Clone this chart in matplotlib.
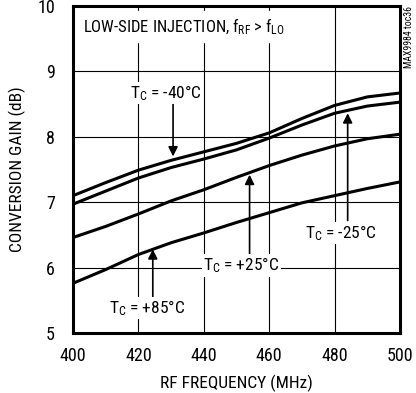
import matplotlib
matplotlib.use("Agg")
import matplotlib.pyplot as plt

plt.rcParams['font.family'] = ['Roboto Condensed', 'Archivo Narrow', 'DejaVu Sans']
plt.rcParams['mathtext.fontset'] = 'custom'
plt.rcParams['mathtext.rm'] = 'Roboto Condensed'
plt.rcParams['mathtext.it'] = 'Roboto Condensed'

# data
freq = [400, 410, 420, 430, 440, 450, 460, 470, 480, 490, 500]
gain_m40 = [7.10, 7.30, 7.49, 7.64, 7.77, 7.90, 8.06, 8.28, 8.48, 8.61, 8.67]
gain_m25 = [6.97, 7.17, 7.37, 7.53, 7.66, 7.80, 7.98, 8.18, 8.36, 8.47, 8.53]
gain_p25 = [6.46, 6.63, 6.82, 7.02, 7.19, 7.38, 7.56, 7.72, 7.86, 7.97, 8.04]
gain_p85 = [5.76, 5.97, 6.20, 6.38, 6.53, 6.69, 6.84, 6.99, 7.10, 7.21, 7.31]

xticks = [400, 420, 440, 460, 480, 500]
yticks = [5, 6, 7, 8, 9, 10]

fig = plt.figure(figsize=(4.16, 3.93), dpi=100)
ax = fig.add_axes([0.1755, 0.1527, 0.786, 0.832])

for g in [gain_m40, gain_m25, gain_p25, gain_p85]:
    ax.plot(freq, g, color='black', lw=2.2, solid_capstyle='butt', zorder=3)

ax.set_xlim(400, 500)
ax.set_ylim(5, 10)
ax.set_xticks(xticks)
ax.set_yticks(yticks)
ax.grid(True, color='black', lw=0.8)
ax.tick_params(axis='x', length=0, labelsize=13, pad=10)
ax.tick_params(axis='y', length=0, labelsize=13, pad=13)
for s in ax.spines.values():
    s.set_linewidth(2.2)

ax.set_xlabel('RF FREQUENCY (MHz)', fontsize=12.5, labelpad=7)
ax.set_ylabel('CONVERSION GAIN (dB)', fontsize=12.5, labelpad=8)

ax.text(403, 9.84, r'LOW-SIDE INJECTION, f$_{\mathrm{RF}}$ > f$_{\mathrm{LO}}$', fontsize=12,
        va='top', ha='left', backgroundcolor='white', zorder=4)

arrow = dict(arrowstyle='-|>', color='black', lw=1.2, mutation_scale=14, shrinkA=0, shrinkB=0)
kw = dict(fontsize=12.5, ha='center', va='center', zorder=5,
          bbox=dict(facecolor='white', edgecolor='none', pad=1))

ax.annotate('', xy=(430.6, 7.70), xytext=(430.6, 8.52), arrowprops=arrow, zorder=4)
ax.text(428.5, 8.67, r'T$_{\mathrm{C}}$ = -40°C', **kw)

ax.annotate('', xy=(484, 8.36), xytext=(484, 6.72), arrowprops=arrow, zorder=4)
ax.text(482, 6.53, r'T$_{\mathrm{C}}$ = -25°C', **kw)

ax.annotate('', xy=(454, 7.42), xytext=(454, 6.15), arrowprops=arrow, zorder=4)
ax.text(451.5, 6.03, r'T$_{\mathrm{C}}$ = +25°C', **kw)

ax.annotate('', xy=(424.4, 6.28), xytext=(424.4, 5.55), arrowprops=arrow, zorder=4)
ax.text(422.5, 5.38, r'T$_{\mathrm{C}}$ = +85°C', **kw)

fig.text(0.983, 0.985, 'MAX9984 toc36', rotation=90, fontsize=7, ha='center', va='top')

fig.savefig('out.png', dpi=100)
